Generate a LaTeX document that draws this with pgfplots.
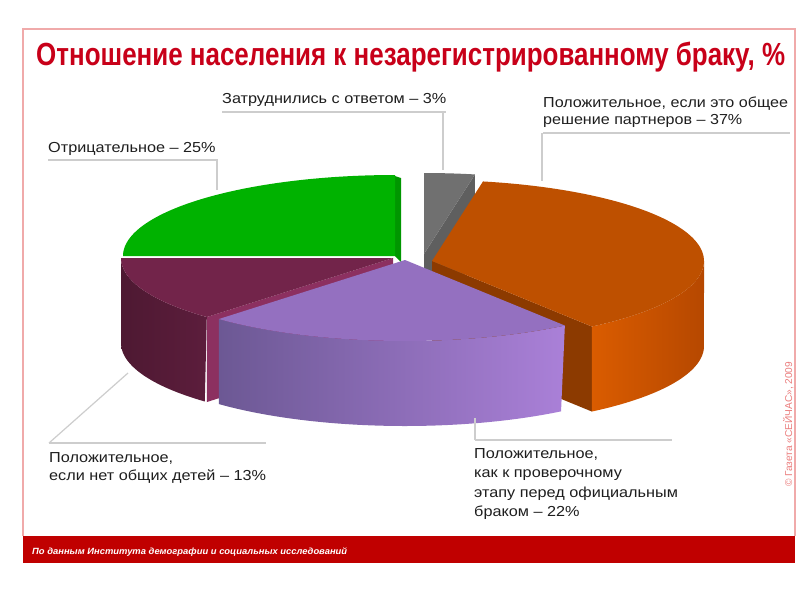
\documentclass[border=0pt]{standalone}
\usepackage{pgfplots}
\pgfplotsset{compat=1.18}
\usepackage{fontspec}
\setmainfont{Liberation Sans}
\usepackage{graphicx}

% ---- data (percent) ----
\def\vNeg{25}   % Отрицательное
\def\vHard{3}   % Затруднились с ответом
\def\vJoint{37} % общее решение партнеров
\def\vTrial{22} % проверочный этап
\def\vKids{13}  % нет общих детей

\pgfmathsetmacro\aA{180}
\pgfmathsetmacro\aB{\aA-3.6*\vNeg}
\pgfmathsetmacro\aC{\aB-3.6*\vHard}
\pgfmathsetmacro\aD{\aC-3.6*\vJoint}
\pgfmathsetmacro\aE{\aD-3.6*\vTrial}
\pgfmathsetmacro\aF{\aE-3.6*\vKids}

\def\Ra{272}\def\Rb{81}\def\Hh{85}

\definecolor{titlered}{RGB}{200,0,25}
\definecolor{framec}{RGB}{240,170,170}
\definecolor{banner}{RGB}{192,0,0}
\definecolor{copyc}{RGB}{235,125,125}
\definecolor{txt}{RGB}{30,30,30}
\definecolor{lead}{RGB}{205,205,205}
\definecolor{gTop}{RGB}{0,178,0}
\definecolor{gFace}{RGB}{0,150,0}
\definecolor{grTop}{RGB}{112,112,112}
\definecolor{grFace}{RGB}{95,95,95}
\definecolor{oTop}{RGB}{190,80,0}
\definecolor{oFace}{RGB}{140,58,0}
\definecolor{oWallL}{RGB}{218,92,0}
\definecolor{oWallR}{RGB}{182,72,0}
\definecolor{pTop}{RGB}{148,112,192}
\definecolor{pWallL}{RGB}{108,88,148}
\definecolor{pWallR}{RGB}{170,128,216}
\definecolor{mTop}{RGB}{114,36,74}
\definecolor{mFace}{RGB}{140,48,96}
\definecolor{mWallL}{RGB}{78,25,50}
\definecolor{mWallR}{RGB}{92,29,60}

% top wedge: color, cx, cy, a1, a2
\newcommand\topwedge[5]{%
  \addplot[fill=#1, draw=none, domain=#4:#5, samples=80, variable=\t]
    ({#2+\Ra*cos(\t)},{#3-\Rb*sin(\t)}) -- (#2,#3) -- cycle;
}
% wall: leftcolor, rightcolor, cx, cy, a1, a2
\newcommand\wall[6]{%
  \addplot[left color=#1, right color=#2, draw=none, domain=0:2, samples=161, variable=\t]
    ({#3+\Ra*cos((#5)+((#6)-(#5))*min(\t,2-\t))},
     {#4-\Rb*sin((#5)+((#6)-(#5))*min(\t,2-\t))+\Hh*(\t>1)}) -- cycle;
}
% radial cut face: color, cx, cy, angle
\newcommand\face[4]{%
  \addplot[fill=#1, draw=none, samples at={0,1,2,3}, variable=\t]
    ({#2+\Ra*cos(#4)*(\t>0.5)*(\t<2.5)},
     {#3-\Rb*sin(#4)*(\t>0.5)*(\t<2.5)+\Hh*(\t>1.5)}) -- cycle;
}

\begin{document}
\begin{tikzpicture}
\path[use as bounding box] (0,0) rectangle (800pt,600pt);
\fill[white] (0,0) rectangle (800pt,600pt);
\begin{axis}[
  at={(0pt,0pt)}, anchor=south west,
  width=800pt, height=600pt, scale only axis,
  xmin=0, xmax=800, ymin=0, ymax=600, y dir=reverse,
  hide axis, clip=false,
]
% frame and banner
\draw[framec, line width=1.3pt] (23,536) -- (23,29) -- (795,29) -- (795,536);
\fill[banner] (23,536) rectangle (795,563);
\node[anchor=base west, text=white, inner sep=0pt,
      font=\bfseries\itshape\fontsize{9}{9}\selectfont] at (32,554)
  {\resizebox{315pt}{\height}{По данным Института демографии и социальных исследований}};
\node[anchor=base west, rotate=90, text=copyc, inner sep=0pt,
      font=\fontsize{10}{10}\selectfont] at (792,487)
  {\resizebox{125pt}{\height}{© Газета «СЕЙЧАС», 2009}};

% title
\node[anchor=base west, text=titlered, inner sep=0pt,
      font=\bfseries\fontsize{32}{32}\selectfont] at (36,65)
  {\resizebox{749pt}{\height}{Отношение населения к незарегистрированному браку, \%}};

% ---- pie (back to front) ----
% gray: Затруднились
\face{grFace}{424}{254}{\aC}
\topwedge{grTop}{424}{254}{\aC}{\aB}
% green: Отрицательное (thin cut face at its right edge)
\addplot[fill=gFace, draw=none] coordinates {(395,256) (395,176) (401,178) (401,262)} -- cycle;
\topwedge{gTop}{395}{256}{\aB}{\aA}
% orange: общее решение
\face{oFace}{432}{261}{\aD}
\wall{oWallL}{oWallR}{432}{261}{\aD}{0}
\topwedge{oTop}{432}{261}{\aD}{\aC}
% maroon: нет общих детей
\face{mFace}{393}{258}{\aE}
\wall{mWallL}{mWallR}{393}{258}{\aF}{\aE}
\topwedge{mTop}{393}{258}{\aF}{\aE}
% purple: проверочный этап
\wall{pWallL}{pWallR}{405}{260}{\aE}{\aD}
\topwedge{pTop}{405}{260}{\aE}{\aD}

% ---- leader lines ----
\draw[lead, line width=1.2pt] (222,112) -- (446,112);
\draw[lead, line width=1.2pt] (443,112) -- (443,170);
\draw[lead, line width=1.2pt] (48,160) -- (218,160);
\draw[lead, line width=1.2pt] (217,160) -- (217,190);
\draw[lead, line width=1.2pt] (543,133) -- (790,133);
\draw[lead, line width=1.2pt] (542,133) -- (542,181);
\draw[lead, line width=1.2pt] (49,443) -- (266,443);
\draw[lead, line width=1.2pt] (49,443) -- (128,373);
\draw[lead, line width=1.2pt] (475,440) -- (672,440);
\draw[lead, line width=1.2pt] (475,440) -- (475,418);

% ---- labels ----
\tikzset{lab/.style={anchor=base west, text=txt, inner sep=0pt,
   font=\fontsize{14.5}{14.5}\selectfont}}
\node[lab] at (222,103) {\scalebox{1.12}[1]{Затруднились с ответом – 3\%}};
\node[lab] at (48,152) {\scalebox{1.12}[1]{Отрицательное – 25\%}};
\node[lab] at (543,107) {\scalebox{1.11}[1]{Положительное, если это общее}};
\node[lab] at (543,124) {\scalebox{1.11}[1]{решение партнеров – 37\%}};
\node[lab] at (49,462) {\scalebox{1.12}[1]{Положительное,}};
\node[lab] at (49,480) {\scalebox{1.12}[1]{если нет общих детей – 13\%}};
\node[lab] at (474,458) {\scalebox{1.12}[1]{Положительное,}};
\node[lab] at (474,477) {\scalebox{1.12}[1]{как к проверочному}};
\node[lab] at (474,497) {\scalebox{1.12}[1]{этапу перед официальным}};
\node[lab] at (474,516) {\scalebox{1.12}[1]{браком – 22\%}};
\end{axis}
\end{tikzpicture}
\end{document}
